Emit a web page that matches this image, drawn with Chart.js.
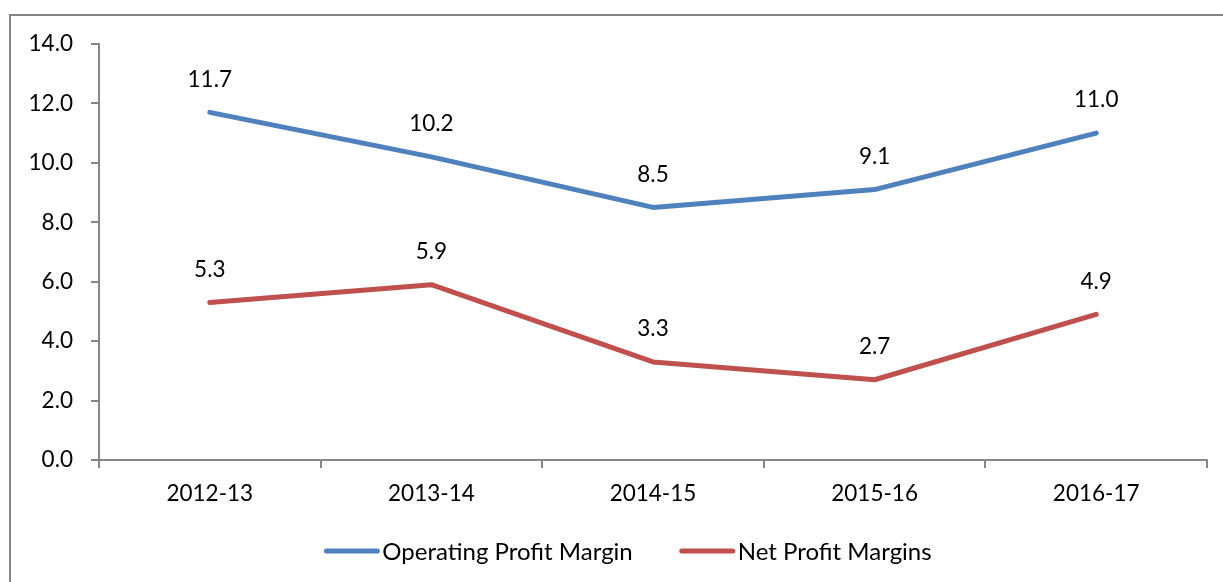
<!DOCTYPE html>
<html>
<head>
<meta charset="utf-8">
<script src="https://cdn.jsdelivr.net/npm/chart.js@4"></script>
<style>
  html, body { margin: 0; padding: 0; background: #fff; overflow: hidden; }
  #wrap { position: absolute; left: 0; top: 0; width: 1223px; height: 582px; }
</style>
</head>
<body>
<div id="wrap"><canvas id="chart"></canvas></div>
<script>
const years = ['2012-13', '2013-14', '2014-15', '2015-16', '2016-17'];
const operatingMargin = [11.7, 10.2, 8.5, 9.1, 11.0];
const netMargin = [5.3, 5.9, 3.3, 2.7, 4.9];
const yTicks = [0, 2, 4, 6, 8, 10, 12, 14];

const FONT = 'Lato, "Noto Sans", sans-serif';
const AXIS_GRAY = '#868686';

// marco exterior del grafico (solo se ven arriba e izquierda)
const framePlugin = {
  id: 'frame',
  beforeDraw(chart) {
    const ctx = chart.ctx;
    ctx.save();
    ctx.fillStyle = '#fff';
    ctx.fillRect(0, 0, chart.width, chart.height);
    ctx.strokeStyle = AXIS_GRAY;
    ctx.lineWidth = 2;
    ctx.beginPath();
    ctx.moveTo(10, chart.height);
    ctx.lineTo(10, 15);
    ctx.lineTo(chart.width, 15);
    ctx.stroke();
    ctx.restore();
  }
};

// etiquetas de valor encima de cada punto
const valueLabels = {
  id: 'valueLabels',
  afterDatasetsDraw(chart) {
    const ctx = chart.ctx;
    ctx.save();
    ctx.font = '22.5px ' + FONT;
    ctx.fillStyle = '#000';
    ctx.textAlign = 'center';
    ctx.textBaseline = 'middle';
    chart.data.datasets.forEach((ds, i) => {
      chart.getDatasetMeta(i).data.forEach((pt, j) => {
        ctx.fillText(ds.data[j].toFixed(1), pt.x, pt.y - 33);
      });
    });
    ctx.restore();
  }
};

// leyenda abajo, linea gruesa pegada al texto como en Excel
const lineLegend = {
  id: 'lineLegend',
  afterDraw(chart) {
    const ctx = chart.ctx;
    const markLen = 55, gapText = 3, gapItem = 47;
    const cy = 551, centerX = 628;
    ctx.save();
    ctx.font = '24px ' + FONT;
    const items = chart.data.datasets.map(ds => ({
      text: ds.label,
      color: ds.borderColor,
      w: markLen + gapText + ctx.measureText(ds.label).width
    }));
    const total = items.reduce((s, it) => s + it.w, 0) + gapItem * (items.length - 1);
    let x = centerX - total / 2;
    items.forEach(it => {
      ctx.strokeStyle = it.color;
      ctx.lineWidth = 5;
      ctx.lineCap = 'round';
      ctx.beginPath();
      ctx.moveTo(x + 2, cy);
      ctx.lineTo(x + markLen - 2, cy);
      ctx.stroke();
      ctx.fillStyle = '#000';
      ctx.textAlign = 'left';
      ctx.textBaseline = 'middle';
      ctx.fillText(it.text, x + markLen + gapText, cy + 1);
      x += it.w + gapItem;
    });
    ctx.restore();
  }
};

new Chart(document.getElementById('chart'), {
  type: 'line',
  data: {
    labels: years,
    datasets: [
      {
        label: 'Operating Profit Margin',
        data: operatingMargin,
        borderColor: '#4F81BD',
        backgroundColor: '#4F81BD',
        borderWidth: 5,
        borderCapStyle: 'round',
        borderJoinStyle: 'round',
        pointRadius: 0,
        tension: 0
      },
      {
        label: 'Net Profit Margins',
        data: netMargin,
        borderColor: '#C0504D',
        backgroundColor: '#C0504D',
        borderWidth: 5,
        borderCapStyle: 'round',
        borderJoinStyle: 'round',
        pointRadius: 0,
        tension: 0
      }
    ]
  },
  options: {
    responsive: true,
    maintainAspectRatio: false,
    animation: false,
    layout: { padding: { top: 44, right: 16, bottom: 0, left: 0 } },
    plugins: {
      legend: { display: false },
      tooltip: { enabled: false }
    },
    scales: {
      x: {
        offset: true,
        grid: {
          offset: true,
          drawOnChartArea: false,
          drawTicks: true,
          tickLength: 8,
          color: AXIS_GRAY,
          lineWidth: 2
        },
        border: { display: true, color: AXIS_GRAY, width: 2 },
        ticks: {
          color: '#000',
          padding: 12,
          maxRotation: 0,
          font: { family: FONT, size: 22.5 }
        },
        afterFit(scale) { scale.height = 122; }
      },
      y: {
        min: yTicks[0],
        max: yTicks[yTicks.length - 1],
        afterBuildTicks(scale) { scale.ticks = yTicks.map(v => ({ value: v })); },
        grid: {
          drawOnChartArea: false,
          drawTicks: true,
          tickLength: 8,
          color: AXIS_GRAY,
          lineWidth: 2
        },
        border: { display: true, color: AXIS_GRAY, width: 2 },
        ticks: {
          color: '#000',
          padding: 18,
          font: { family: FONT, size: 22.5 },
          callback: v => Number(v).toFixed(1)
        },
        afterFit(scale) { scale.width = 99; }
      }
    }
  },
  plugins: [framePlugin, valueLabels, lineLegend]
});
</script>
</body>
</html>
